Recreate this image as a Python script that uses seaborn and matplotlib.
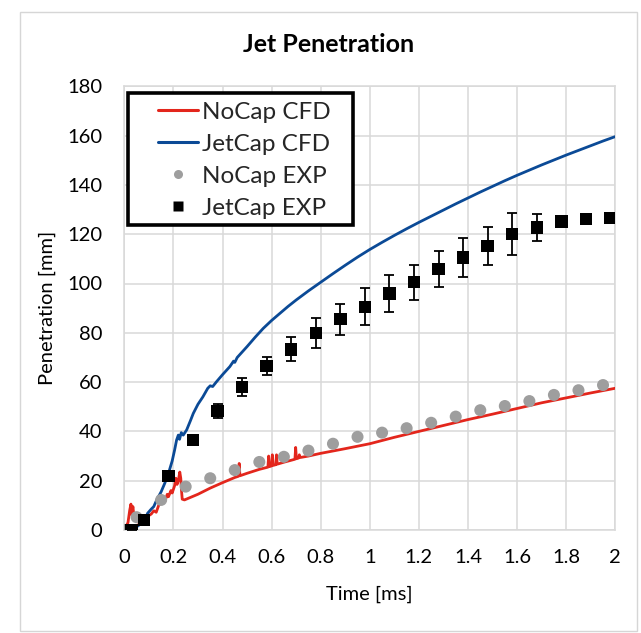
import matplotlib
matplotlib.use("Agg")
import matplotlib.pyplot as plt
import seaborn as sns
import pandas as pd
from matplotlib.patches import Rectangle
from matplotlib.lines import Line2D
from matplotlib.legend_handler import HandlerLine2D

# ---------------- data ----------------
nocap_cfd_t = [0.0, 0.015, 0.022, 0.027, 0.031, 0.035, 0.04, 0.05, 0.065, 0.08, 0.095, 0.11,
               0.12, 0.13, 0.14, 0.15, 0.16, 0.165, 0.175, 0.18, 0.19, 0.195, 0.205, 0.21,
               0.215, 0.22, 0.226, 0.23, 0.233, 0.236, 0.245, 0.3, 0.35, 0.4, 0.45, 0.465,
               0.468, 0.471, 0.5, 0.55, 0.585, 0.588, 0.591, 0.6, 0.603, 0.606, 0.617, 0.62,
               0.623, 0.65, 0.695, 0.698, 0.701, 0.71, 0.713, 0.716, 0.75, 0.8, 0.9, 1.0,
               1.1, 1.2, 1.3, 1.4, 1.5, 1.6, 1.7, 1.8, 1.9, 2.0]
nocap_cfd_y = [0.0, 3.0, 8.0, 10.5, 6.0, 9.5, 5.0, 3.5, 2.7, 3.5, 5.5, 6.5,
               7.8, 7.2, 10.0, 11.0, 12.5, 11.5, 14.5, 13.5, 16.0, 15.0, 18.0, 21.0,
               18.5, 20.0, 23.5, 21.0, 16.0, 12.5, 12.2, 14.5, 17.0, 19.2, 21.3, 21.8,
               27.0, 22.0, 23.0, 24.6, 25.5, 30.0, 25.7, 26.0, 30.5, 26.2, 26.5, 30.5,
               26.7, 27.5, 28.7, 33.5, 28.9, 29.2, 30.5, 29.4, 30.0, 31.1, 33.0, 35.0,
               37.6, 40.0, 42.4, 44.8, 47.0, 49.3, 51.6, 53.6, 55.6, 57.5]

jetcap_cfd_t = [0.04, 0.06, 0.075, 0.08, 0.085, 0.095, 0.11, 0.12, 0.132, 0.15, 0.165, 0.18,
                0.195, 0.205, 0.213, 0.22, 0.225, 0.232, 0.24, 0.254, 0.27, 0.281, 0.3, 0.32,
                0.34, 0.35, 0.36, 0.376, 0.4, 0.43, 0.445, 0.45, 0.46, 0.5, 0.533, 0.566,
                0.6, 0.634, 0.667, 0.7, 0.75, 0.8, 0.85, 0.9, 0.95, 1.0, 1.05, 1.1, 1.15,
                1.2, 1.25, 1.3, 1.35, 1.4, 1.45, 1.5, 1.55, 1.6, 1.65, 1.7, 1.75, 1.8,
                1.85, 1.9, 1.95, 2.0]
jetcap_cfd_y = [0.5, 2.0, 3.5, 5.5, 4.5, 6.8, 8.5, 9.5, 12.2, 15.5, 19.0, 23.0,
                28.0, 32.5, 36.5, 38.5, 36.8, 39.5, 38.5, 40.6, 44.5, 47.3, 51.0, 54.0,
                57.5, 58.5, 58.2, 60.2, 63.0, 66.3, 68.5, 68.0, 70.0, 74.4, 78.2, 81.8,
                85.0, 87.9, 90.7, 93.3, 97.0, 100.5, 104.0, 107.4, 110.7, 113.8, 116.7,
                119.5, 122.2, 124.8, 127.3, 129.8, 132.3, 134.7, 137.1, 139.4, 141.7,
                143.9, 146.0, 148.1, 150.1, 152.1, 154.0, 155.9, 157.8, 159.6]

nocap_exp_t = [0.0, 0.05, 0.15, 0.25, 0.35, 0.45, 0.55, 0.65, 0.75, 0.85, 0.95, 1.05,
               1.15, 1.25, 1.35, 1.45, 1.55, 1.65, 1.75, 1.85, 1.95]
nocap_exp_y = [0.0, 5.2, 12.2, 17.6, 21.0, 24.3, 27.6, 29.7, 32.2, 35.0, 37.8, 39.5,
               41.3, 43.5, 46.0, 48.6, 50.3, 52.3, 54.8, 56.7, 58.8]

jetcap_exp_t = [0.03, 0.08, 0.18, 0.28, 0.38, 0.48, 0.58, 0.68, 0.78, 0.88, 0.98, 1.08,
                1.18, 1.28, 1.38, 1.48, 1.58, 1.68, 1.78, 1.88, 1.98]
jetcap_exp_y = [0.0, 4.0, 21.9, 36.5, 48.3, 58.0, 66.5, 73.3, 80.0, 85.5, 90.5, 95.9,
                100.5, 105.8, 110.5, 115.3, 120.0, 122.8, 125.1, 126.2, 126.5]
jetcap_exp_err = [0.5, 0.8, 1.5, 2.0, 2.8, 3.6, 3.6, 4.8, 6.0, 6.2, 7.5, 7.4,
                  7.2, 7.2, 7.8, 7.8, 8.5, 5.4, 1.5, 1.0, 1.0]

legend_labels = ['NoCap CFD', 'JetCap CFD', 'NoCap EXP', 'JetCap EXP']

# ---------------- styling ----------------
sns.set_theme(style="white")
plt.rcParams['font.family'] = ['Lato', 'DejaVu Sans']

RED = '#E3261C'
BLUE = '#0B4A96'
GRAY = '#9E9E9E'
GRID = '#D9D9D9'

fig = plt.figure(figsize=(6.41, 6.33), dpi=100)
fig.patch.set_facecolor('white')
fig.patches.append(Rectangle((20/641, 1-631/633), 617/641, 619/633, transform=fig.transFigure,
                             facecolor='none', edgecolor='#D6D6D6', linewidth=1.0, zorder=-10))

ax = fig.add_axes([124.3/641, 1-530/633, 491/641, 443.7/633])
ax.set_zorder(1)

df_nc = pd.DataFrame({'t': nocap_cfd_t, 'y': nocap_cfd_y})
df_jc = pd.DataFrame({'t': jetcap_cfd_t, 'y': jetcap_cfd_y})
df_ne = pd.DataFrame({'t': nocap_exp_t, 'y': nocap_exp_y})
df_je = pd.DataFrame({'t': jetcap_exp_t, 'y': jetcap_exp_y, 'e': jetcap_exp_err})

sns.lineplot(data=df_nc, x='t', y='y', ax=ax, color=RED, lw=2.0, sort=False,
             estimator=None, zorder=3, legend=False)
sns.lineplot(data=df_jc, x='t', y='y', ax=ax, color=BLUE, lw=2.0, sort=False,
             estimator=None, zorder=3, legend=False)
sns.scatterplot(data=df_ne, x='t', y='y', ax=ax, color=GRAY, marker='o', s=75,
                edgecolor='none', zorder=4, legend=False)
ax.errorbar(df_je['t'], df_je['y'], yerr=df_je['e'], fmt='none', ecolor='black',
            elinewidth=1.3, capsize=3.5, capthick=1.3, zorder=4)
sns.scatterplot(data=df_je, x='t', y='y', ax=ax, color='black', marker='s', s=80,
                edgecolor='none', zorder=5, legend=False)

ax.set_xlim(0, 2)
ax.set_ylim(0, 180)
ax.set_xticks([0, 0.2, 0.4, 0.6, 0.8, 1.0, 1.2, 1.4, 1.6, 1.8, 2.0])
ax.set_xticklabels(['0', '0.2', '0.4', '0.6', '0.8', '1', '1.2', '1.4', '1.6', '1.8', '2'])
ax.set_yticks(range(0, 181, 20))
ax.grid(True, color=GRID, linewidth=1.1)
ax.set_axisbelow(True)
for sp in ax.spines.values():
    sp.set_color(GRID)
    sp.set_linewidth(1.1)
ax.tick_params(axis='both', length=0, labelsize=14.5, colors='black')
ax.tick_params(axis='y', pad=16)
ax.tick_params(axis='x', pad=14)

ax.set_xlabel('Time [ms]', fontsize=14.5, color='black', labelpad=14)
ax.set_ylabel('Penetration [mm]', fontsize=14.5, color='black', labelpad=8)

fig.text(329/641, 1-45/633, 'Jet Penetration', ha='center', va='center',
         fontsize=18, fontweight='bold', color='black')

# legend box + entries
box = Rectangle((0.008, 0.687), 0.458, 0.2985, transform=ax.transAxes, facecolor='white',
                edgecolor='black', linewidth=2.6, zorder=9, clip_on=False)
ax.add_patch(box)


class RightLine(HandlerLine2D):
    def __init__(self, shift, **kw):
        super().__init__(**kw)
        self.shift = shift

    def create_artists(self, legend, orig_handle, xdescent, ydescent, width, height,
                       fontsize, trans):
        s = self.shift * fontsize
        return super().create_artists(legend, orig_handle, xdescent - s, ydescent,
                                      width - s, height, fontsize, trans)


handles = [Line2D([], [], color=RED, lw=2.2),
           Line2D([], [], color=BLUE, lw=2.2),
           Line2D([], [], ls='none', marker='o', color=GRAY, markersize=6.5, mec='none'),
           Line2D([], [], ls='none', marker='s', color='black', markersize=6.5, mec='none')]
leg = ax.legend(handles, legend_labels, loc='upper left', bbox_to_anchor=(0.008, 0.9655),
                borderaxespad=0, fontsize=17.5, frameon=False, handlelength=2.88,
                handletextpad=0.16, borderpad=0, labelspacing=0.455,
                handler_map={Line2D: RightLine(1.23)})
leg.set_zorder(10)

fig.savefig('out.png', dpi=100)
